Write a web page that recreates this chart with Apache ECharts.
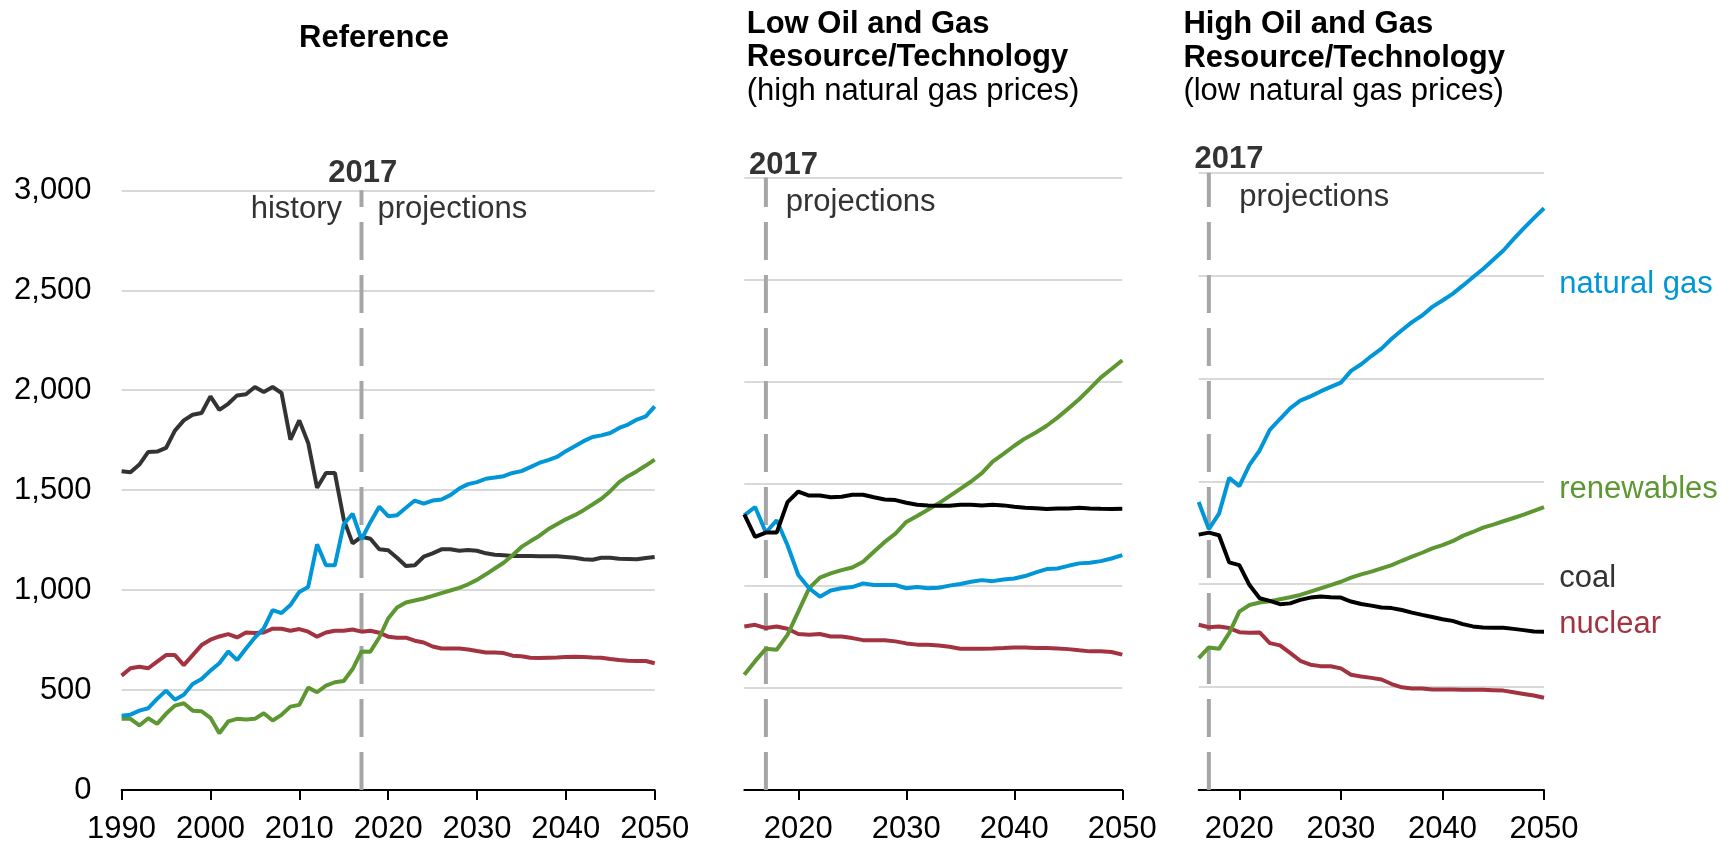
<!DOCTYPE html>
<html>
<head>
<meta charset="utf-8">
<script src="https://cdn.jsdelivr.net/npm/echarts@6.0.0/dist/echarts.min.js"></script>
<style>
  html, body { margin: 0; padding: 0; background: #fff; }
  #chart { width: 1734px; height: 845px; }
</style>
</head>
<body>
<div id="chart"></div>
<script>
// electricity generation by fuel, billion kWh
const refYears = [1990, 2050];
const lowYears = [2015, 2050];
const highYears = [2016, 2050];
const yTicks = [0, 500, 1000, 1500, 2000, 2500, 3000];
const projTicks = [2020, 2030, 2040, 2050];
const splitYear = 2017;

const coalRef = [1595, 1590, 1628, 1691, 1693, 1711, 1798, 1849, 1877, 1886,
  1969, 1902, 1932, 1974, 1980, 2016, 1991, 2016, 1986, 1753,
  1849, 1736, 1512, 1586, 1586, 1354, 1234, 1267, 1257, 1204,
  1199, 1162, 1121, 1124, 1167, 1184, 1204, 1204, 1197, 1201,
  1197, 1184, 1177, 1174, 1171, 1171, 1171, 1169, 1169, 1169,
  1166, 1162, 1154, 1152, 1162, 1162, 1157, 1156, 1154, 1161, 1166];
const gasRef = [372, 377, 397, 409, 456, 497, 452, 476, 530, 555,
  597, 634, 693, 650, 708, 763, 808, 900, 885, 925,
  991, 1016, 1229, 1124, 1124, 1329, 1382, 1254, 1340, 1417,
  1370, 1374, 1412, 1448, 1432, 1448, 1453, 1475, 1508, 1530,
  1540, 1557, 1563, 1570, 1586, 1595, 1615, 1636, 1650, 1666,
  1695, 1720, 1745, 1766, 1774, 1786, 1811, 1828, 1853, 1869, 1919];
const renewRef = [356, 356, 323, 359, 331, 381, 422, 434, 397, 394,
  361, 284, 343, 356, 353, 356, 384, 348, 376, 417,
  426, 512, 489, 522, 539, 545, 605, 693, 692, 763,
  858, 913, 938, 948, 958, 971, 985, 998, 1011, 1029,
  1051, 1079, 1108, 1137, 1174, 1216, 1244, 1271, 1304, 1329,
  1354, 1375, 1400, 1428, 1457, 1495, 1540, 1570, 1595, 1623, 1653];
const nucRef = [572, 609, 617, 609, 642, 675, 675, 625, 675, 725,
  752, 768, 780, 763, 788, 785, 788, 807, 807, 797,
  805, 792, 767, 788, 797, 797, 803, 792, 797, 787,
  767, 762, 762, 747, 738, 718, 708, 708, 708, 703,
  695, 688, 688, 685, 672, 669, 662, 660, 662, 663,
  665, 667, 665, 663, 662, 655, 650, 647, 645, 645, 634];

const coalLow = [1350, 1240, 1261, 1261, 1410, 1462, 1442, 1442, 1434, 1436,
  1446, 1446, 1434, 1423, 1420, 1407, 1397, 1394, 1392, 1392,
  1397, 1397, 1394, 1397, 1394, 1387, 1382, 1380, 1376, 1379,
  1379, 1382, 1379, 1377, 1376, 1377];
const gasLow = [1345, 1386, 1261, 1321, 1199, 1053, 988, 947, 977, 988,
  994, 1012, 1004, 1004, 1004, 988, 994, 988, 991, 1001,
  1009, 1020, 1028, 1023, 1031, 1036, 1048, 1066, 1082, 1085,
  1098, 1110, 1113, 1121, 1134, 1150];
const renewLow = [565, 631, 692, 687, 760, 874, 988, 1040, 1061, 1077,
  1090, 1118, 1167, 1215, 1256, 1313, 1342, 1373, 1404, 1439,
  1475, 1511, 1552, 1608, 1646, 1686, 1722, 1751, 1784, 1824,
  1868, 1914, 1966, 2020, 2062, 2105];
const nucLow = [801, 809, 793, 801, 790, 764, 760, 764, 752, 752,
  744, 734, 733, 733, 728, 718, 712, 712, 708, 702,
  692, 692, 692, 693, 695, 698, 698, 696, 695, 693,
  690, 684, 679, 679, 676, 663];

const gasHigh = [1400, 1268, 1343, 1517, 1477, 1580, 1650, 1750, 1803, 1855,
  1892, 1913, 1937, 1959, 1980, 2037, 2069, 2109, 2145, 2193,
  2234, 2274, 2306, 2348, 2379, 2411, 2451, 2492, 2532, 2577,
  2622, 2677, 2729, 2779, 2827];
const coalHigh = [1241, 1251, 1238, 1106, 1093, 996, 932, 919, 903, 907,
  924, 935, 940, 937, 935, 916, 904, 896, 887, 884,
  875, 862, 851, 841, 830, 822, 806, 795, 790, 788,
  788, 783, 777, 770, 769];
const renewHigh = [641, 693, 686, 762, 867, 899, 911, 917, 927, 937,
  948, 964, 980, 996, 1012, 1032, 1048, 1061, 1077, 1093,
  1114, 1134, 1153, 1174, 1190, 1209, 1235, 1254, 1275, 1290,
  1306, 1322, 1338, 1356, 1375];
const nucHigh = [803, 791, 795, 787, 767, 764, 766, 714, 703, 666,
  628, 609, 602, 601, 591, 560, 552, 545, 537, 515,
  499, 493, 493, 488, 488, 488, 487, 487, 487, 485,
  483, 475, 467, 459, 448];

const FONT = "'Liberation Sans', Arial, Helvetica, sans-serif";
const COLORS = { gas: '#0096d7', renew: '#5d9732', nuc: '#a33340', coalRef: '#333333', coal: '#000000' };

const chart = echarts.init(document.getElementById('chart'), null, { renderer: 'canvas' });

const toPairs = (start, values) => values.map((v, i) => [start + i, v]);

const grids = [
  { left: 121.6, top: 190.3, width: 533.1, height: 600.9 },
  { left: 744.3, top: 177.5, width: 378, height: 615 },
  { left: 1198.7, top: 172.7, width: 345.3, height: 618.8 },
];

const xBase = (i, range) => ({
  type: 'value',
  gridIndex: i,
  min: range[0],
  max: range[1],
  axisLine: { show: true, lineStyle: { color: '#000', width: 2 } },
  axisTick: { show: true, length: 10, lineStyle: { color: '#000', width: 2 } },
  axisLabel: {
    color: '#000',
    fontSize: 31,
    fontFamily: FONT,
    margin: 24,
    formatter: (v) => String(v),
  },
  splitLine: { show: false },
});

const xAxes = [
  Object.assign(xBase(0, refYears), { interval: 10 }),
  xBase(1, lowYears),
  xBase(2, highYears),
];
[1, 2].forEach((i) => {
  xAxes[i].axisTick.customValues = projTicks;
  xAxes[i].axisLabel.customValues = projTicks;
});

const yAxes = [0, 1, 2].map((i) => ({
  type: 'value',
  gridIndex: i,
  min: yTicks[0],
  max: yTicks[yTicks.length - 1],
  interval: yTicks[1] - yTicks[0],
  axisLine: { show: false },
  axisTick: { show: false },
  axisLabel: {
    show: i === 0,
    color: '#000',
    fontSize: 31,
    fontFamily: FONT,
    margin: 30,
    formatter: (v) => v.toLocaleString('en-US'),
  },
  splitLine: { show: true, lineStyle: { color: '#d9d9d9', width: 2 } },
}));

const lineSeries = (i, name, start, values, color) => ({
  name,
  type: 'line',
  xAxisIndex: i,
  yAxisIndex: i,
  data: toPairs(start, values),
  symbol: 'none',
  lineStyle: { color, width: 4 },
  silent: true,
  z: 3,
});

const divider = (i) => ({
  type: 'line',
  xAxisIndex: i,
  yAxisIndex: i,
  data: [[splitYear, yTicks[0]], [splitYear, yTicks[yTicks.length - 1]]],
  symbol: 'none',
  lineStyle: { color: '#a6a6a6', width: 4, type: [38, 15] },
  silent: true,
  z: 2,
});

const series = [
  divider(0), divider(1), divider(2),
  lineSeries(0, 'coal', refYears[0], coalRef, COLORS.coalRef),
  lineSeries(0, 'nuclear', refYears[0], nucRef, COLORS.nuc),
  lineSeries(0, 'renewables', refYears[0], renewRef, COLORS.renew),
  lineSeries(0, 'natural gas', refYears[0], gasRef, COLORS.gas),
  lineSeries(1, 'nuclear', lowYears[0], nucLow, COLORS.nuc),
  lineSeries(1, 'renewables', lowYears[0], renewLow, COLORS.renew),
  lineSeries(1, 'natural gas', lowYears[0], gasLow, COLORS.gas),
  lineSeries(1, 'coal', lowYears[0], coalLow, COLORS.coal),
  lineSeries(2, 'nuclear', highYears[0], nucHigh, COLORS.nuc),
  lineSeries(2, 'renewables', highYears[0], renewHigh, COLORS.renew),
  lineSeries(2, 'coal', highYears[0], coalHigh, COLORS.coal),
  lineSeries(2, 'natural gas', highYears[0], gasHigh, COLORS.gas),
];

// text placed by baseline: middle of the line box sits a bit above it
const txt = (text, x, baseline, opts = {}) => {
  const size = opts.size || 31;
  return {
    type: 'text',
    silent: true,
    style: {
      text,
      x,
      y: baseline - size * 0.27,
      fill: opts.color || '#000',
      font: `${opts.bold ? 'bold ' : ''}${size}px ${FONT}`,
      align: opts.align || 'left',
      textAlign: opts.align || 'left',
      verticalAlign: 'middle',
      textVerticalAlign: 'middle',
    },
  };
};

const graphic = [
  txt('Reference', 374, 47, { bold: true, align: 'center' }),
  txt('Low Oil and Gas', 746.7, 32.5, { bold: true }),
  txt('Resource/Technology', 746.7, 66, { bold: true }),
  txt('(high natural gas prices)', 746.7, 99.5),
  txt('High Oil and Gas', 1183.4, 33, { bold: true }),
  txt('Resource/Technology', 1183.4, 66.5, { bold: true }),
  txt('(low natural gas prices)', 1183.4, 100),

  txt('2017', 362.7, 181.7, { bold: true, align: 'center', color: '#333' }),
  txt('history', 342, 218, { align: 'right', color: '#333' }),
  txt('projections', 377.4, 218, { color: '#333' }),
  txt('2017', 749, 174, { bold: true, color: '#333' }),
  txt('projections', 785.7, 211, { color: '#333' }),
  txt('2017', 1194.5, 168.3, { bold: true, color: '#333' }),
  txt('projections', 1239.3, 206, { color: '#333' }),

  txt('natural gas', 1559.3, 293.3, { color: COLORS.gas }),
  txt('renewables', 1559.3, 498.3, { color: COLORS.renew }),
  txt('coal', 1559.3, 586.7, { color: '#333' }),
  txt('nuclear', 1559.3, 633.3, { color: COLORS.nuc }),
];

chart.setOption({
  animation: false,
  backgroundColor: '#fff',
  textStyle: { fontFamily: FONT },
  grid: grids,
  xAxis: xAxes,
  yAxis: yAxes,
  series,
  graphic,
});

window.addEventListener('resize', () => chart.resize());
</script>
</body>
</html>
